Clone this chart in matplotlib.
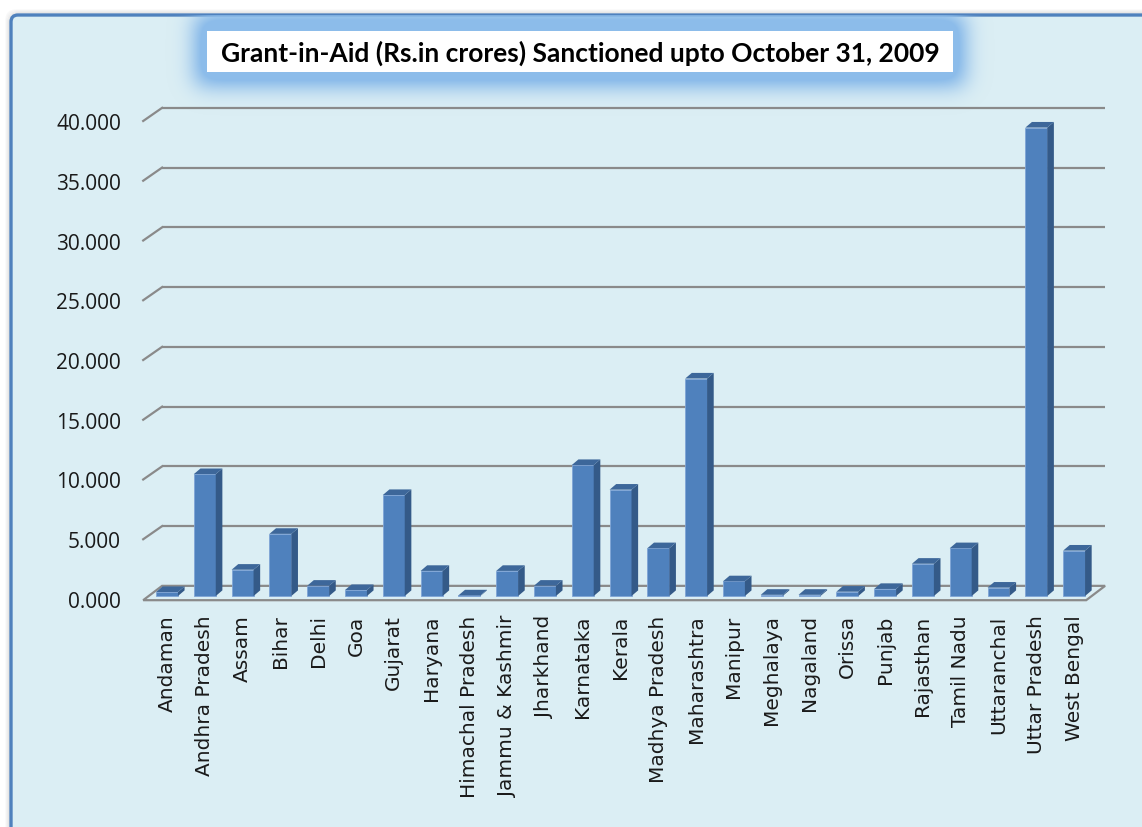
import numpy as np
import matplotlib.pyplot as plt
from matplotlib.patches import Polygon, FancyBboxPatch, Rectangle

states = ['Andaman', 'Andhra Pradesh', 'Assam', 'Bihar', 'Delhi', 'Goa', 'Gujarat',
          'Haryana', 'Himachal Pradesh', 'Jammu & Kashmir', 'Jharkhand', 'Karnataka',
          'Kerala', 'Madhya Pradesh', 'Maharashtra', 'Manipur', 'Meghalaya', 'Nagaland',
          'Orissa', 'Punjab', 'Rajasthan', 'Tamil Nadu', 'Uttaranchal', 'Uttar Pradesh',
          'West Bengal']
grant = [0.33, 10.2, 2.2, 5.2, 0.86, 0.5, 8.45, 2.1, 0.05, 2.1, 0.86, 10.96,
         8.9, 4.0, 18.2, 1.23, 0.1, 0.1, 0.36, 0.59, 2.7, 4.0, 0.7, 39.2, 3.8]
yticks = np.arange(0, 45, 5)
title = 'Grant-in-Aid (Rs.in crores) Sanctioned upto October 31, 2009'

W, H = 1142, 828
fig = plt.figure(figsize=(W / 100, H / 100), dpi=100)

# background / frame in pixel coordinates
bg = fig.add_axes([0, 0, 1, 1])
bg.set_xlim(0, W)
bg.set_ylim(H, 0)
bg.axis('off')

for off, a in [(5, 0.05), (4, 0.08), (3, 0.12), (2, 0.16)]:
    bg.add_patch(FancyBboxPatch((11 - off, 16 - off), W + 40, H + 40,
                                boxstyle='round,pad=0,rounding_size=10',
                                fc='none', ec='#808080', lw=1, alpha=a))
frame = FancyBboxPatch((11, 16), W + 40, H + 40, boxstyle='round,pad=0,rounding_size=7',
                       fc='#DBEEF4', ec='#4F81BD', lw=2.4, zorder=1)
bg.add_patch(frame)

# glow around the title box
mask = np.zeros((H, W))
mask[16:86, 196:964] = 1.0
s = 11.0
k = np.exp(-np.arange(-40, 41) ** 2 / (2 * s * s))
k /= k.sum()
blur = np.apply_along_axis(lambda r: np.convolve(r, k, mode='same'), 1, mask)
blur = np.apply_along_axis(lambda c: np.convolve(c, k, mode='same'), 0, blur)
img = np.zeros((H, W, 4))
img[..., 0], img[..., 1], img[..., 2] = 0.55, 0.74, 0.92
img[..., 3] = np.clip(blur * 1.5, 0, 1)
im = bg.imshow(img, extent=(0, W, H, 0), aspect='auto', zorder=2, interpolation='bilinear')
im.set_clip_path(frame)

bg.add_patch(Rectangle((207, 32), 746, 41, fc='white', ec='none', zorder=3))
bg.text(580, 53, title, ha='center', va='center', fontsize=19, fontweight='bold',
        family='Lato', color='black', zorder=4)

# main chart
ax = fig.add_axes([148.1 / W, 228 / H, 944.9 / W, 478 / H])
ax.patch.set_visible(False)
for sp in ax.spines.values():
    sp.set_visible(False)
ax.set_xlim(-0.5, 24.5)
ax.set_ylim(0, 40)

x = np.arange(len(states))
dxb, dyb = 0.5, 1.1      # back wall offset
x0, x1 = -0.63, 24.32    # floor front edge
grid_c = '#8A8A8A'

ax.add_patch(Polygon([(x0, -0.1), (x1, -0.1), (x1 + dxb, dyb), (x0 + dxb, dyb)],
                     closed=True, fc='none', ec=grid_c, lw=1.6, clip_on=False, zorder=1))
for v in yticks[1:]:
    ax.plot([x0 + dxb, x1 + dxb], [v + dyb, v + dyb], color=grid_c, lw=1.6,
            clip_on=False, zorder=1, solid_capstyle='butt')
    ax.plot([x0, x0 + dxb], [v, v + dyb], color=grid_c, lw=1.6, clip_on=False, zorder=1)

# 3d looking bars
bw, b0, dx, dy = 0.58, 0.25, 0.175, 0.47
ax.bar(x, grant, width=bw, bottom=b0, color='#4F81BD', edgecolor='#7FA5D6', lw=0.6,
       zorder=3, clip_on=False)
for xi, v in zip(x, grant):
    r, l, t = xi + bw / 2, xi - bw / 2, b0 + v
    ax.add_patch(Polygon([(r, b0), (r + dx, b0 + dy), (r + dx, t + dy), (r, t)],
                         closed=True, fc='#345A88', ec='none', zorder=3, clip_on=False))
    ax.add_patch(Polygon([(l, t), (l + dx, t + dy), (r + dx, t + dy), (r, t)],
                         closed=True, fc='#3D679A', ec='none', zorder=3, clip_on=False))

ax.set_yticks(yticks)
ax.set_yticklabels([f'{v:.3f}' for v in yticks], family='Open Sans', fontsize=15)
ax.tick_params(axis='y', length=0, pad=19.5, labelcolor='#1a1a1a')
ax.set_xticks(x)
ax.set_xticklabels(states, rotation=90, ha='center', va='top', fontsize=14.5, family='DejaVu Sans')
ax.tick_params(axis='x', length=0, pad=11, labelcolor='#1a1a1a')

plt.savefig('out.png', dpi=100)
